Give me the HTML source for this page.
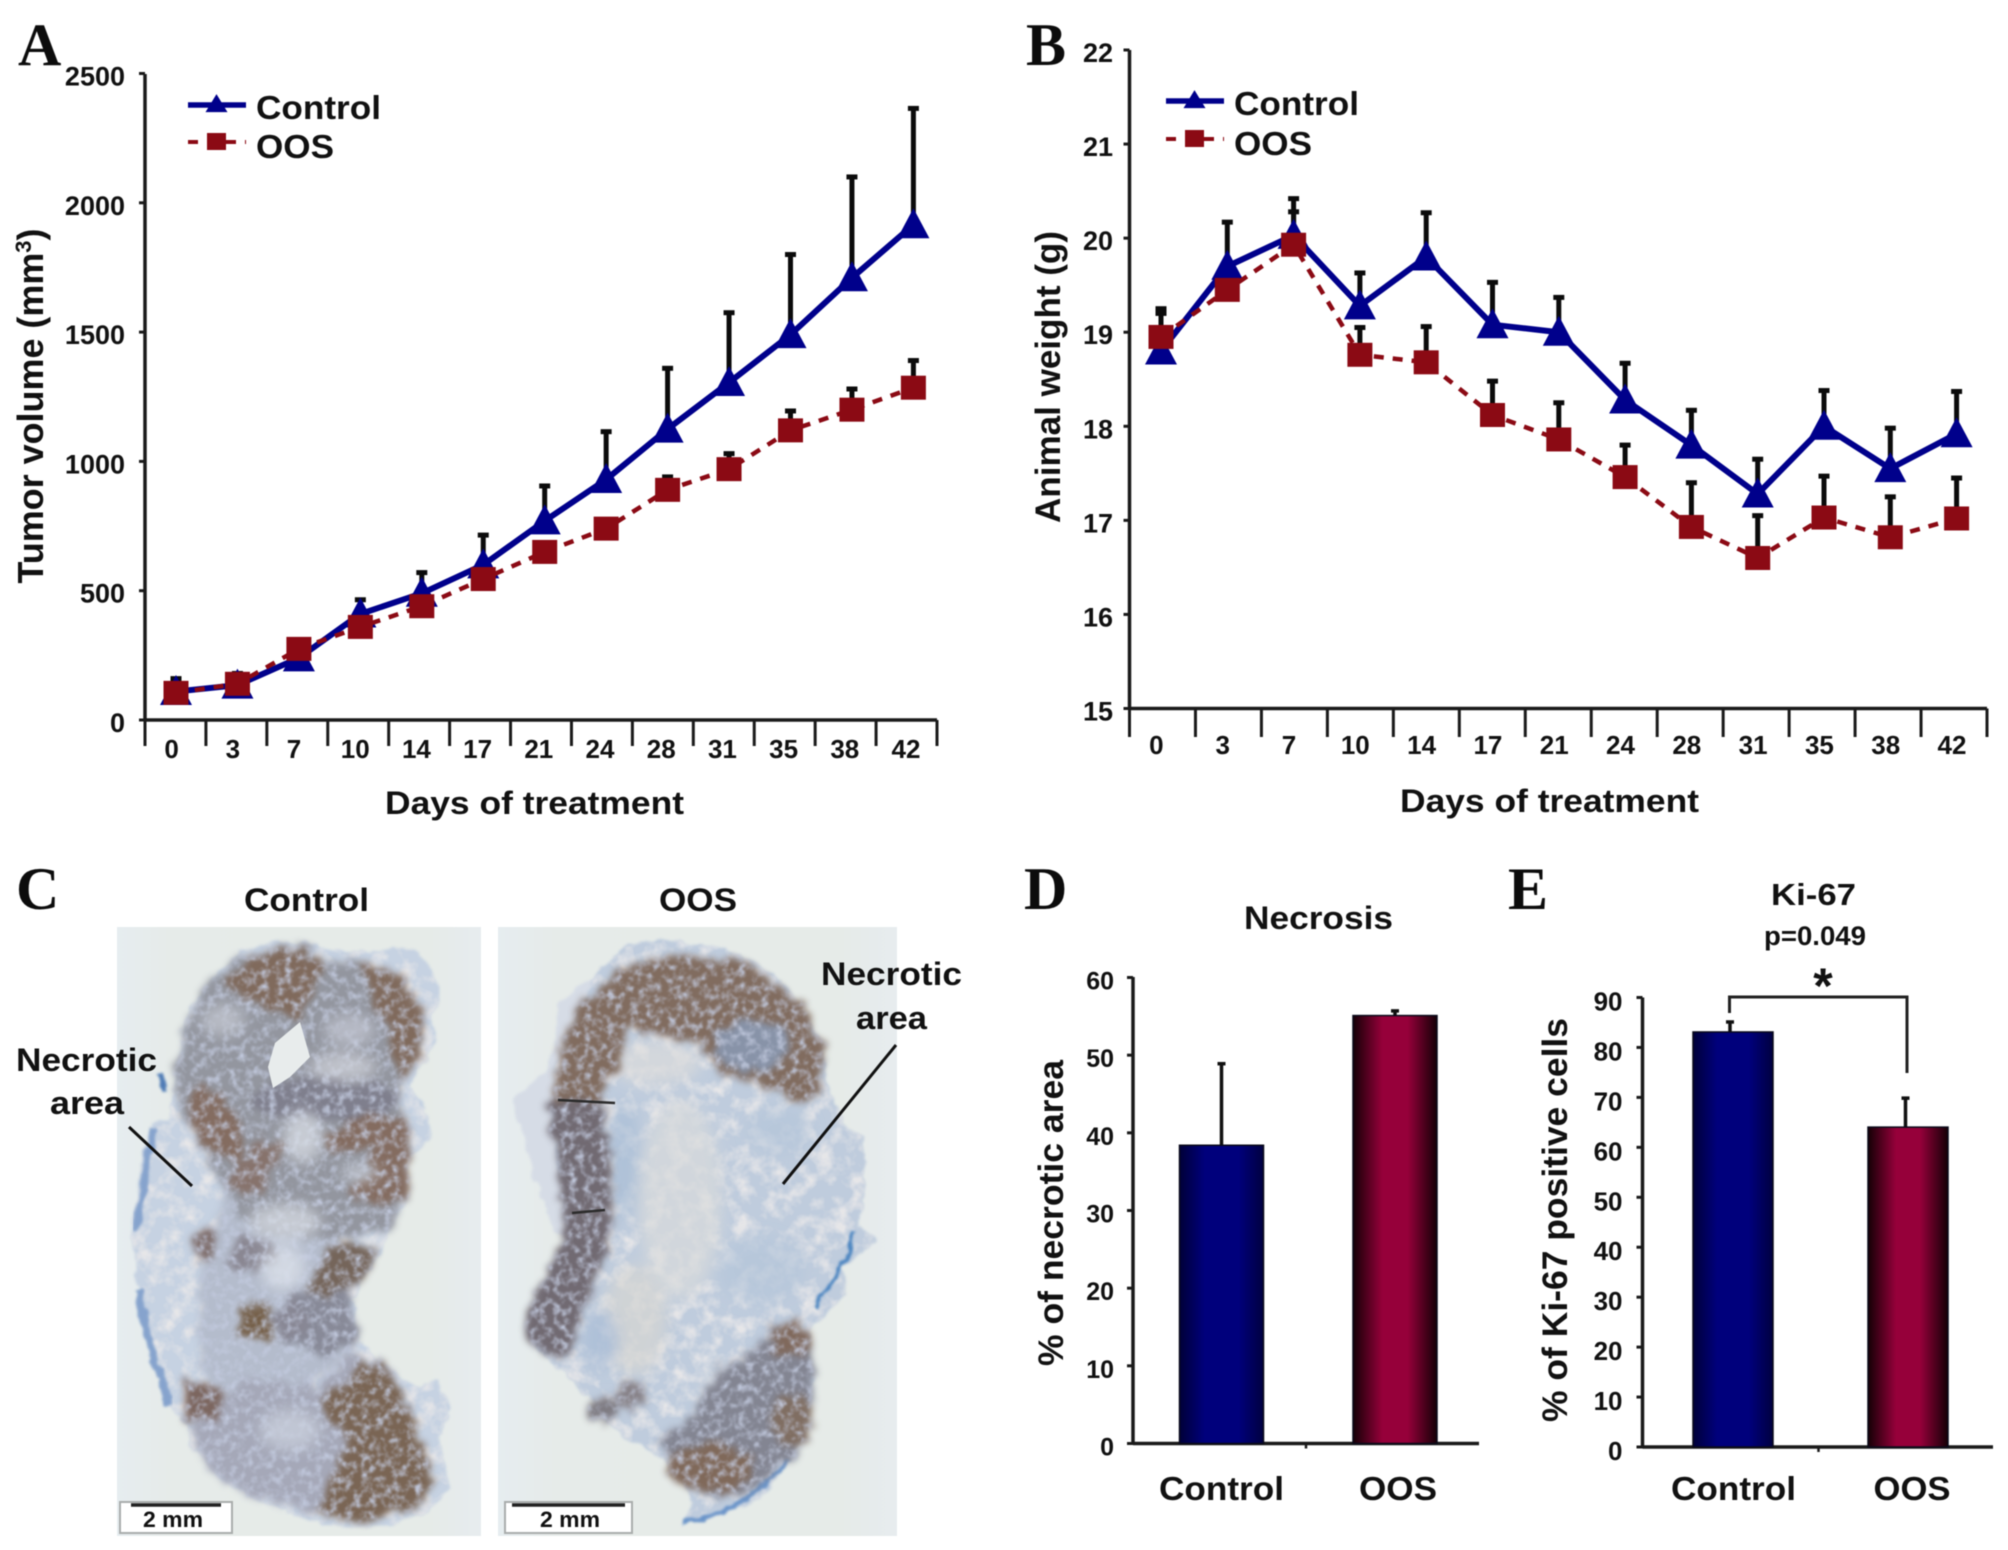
<!DOCTYPE html>
<html lang="en">
<head>
<meta charset="utf-8">
<title>Tumor volume, animal weight, necrosis and Ki-67 after OOS treatment</title>
<style>
html,body{margin:0;padding:0;background:#fff;width:2008px;height:1550px;overflow:hidden}
svg{display:block;filter:blur(.6px)}
text{font-family:"Liberation Sans",Arial,sans-serif;font-weight:bold;fill:#111}
.letter{font-family:"Liberation Serif","Times New Roman",serif;font-size:60px;fill:#0c0c0c}
</style>
</head>
<body>
<svg id="figure" xmlns="http://www.w3.org/2000/svg" width="2008" height="1550" viewBox="0 0 2008 1550">
<defs>
<linearGradient id="barBlue" x1="0" x2="1" y1="0" y2="0"><stop offset="0" stop-color="#000038"/><stop offset=".3" stop-color="#00007c"/><stop offset=".7" stop-color="#00007c"/><stop offset="1" stop-color="#000040"/></linearGradient>
<linearGradient id="barRed" x1="0" x2="1" y1="0" y2="0"><stop offset="0" stop-color="#140006"/><stop offset=".35" stop-color="#96003a"/><stop offset=".65" stop-color="#96003a"/><stop offset="1" stop-color="#140006"/></linearGradient>
<linearGradient id="photoBg" x1="0" x2="1" y1="0" y2="0"><stop offset="0" stop-color="#e6edf0"/><stop offset=".15" stop-color="#e6ebe9"/><stop offset=".85" stop-color="#e6ebe8"/><stop offset="1" stop-color="#e7ecef"/></linearGradient>
<filter id="tex" color-interpolation-filters="sRGB" x="-8%" y="-8%" width="116%" height="116%"><feTurbulence type="fractalNoise" baseFrequency="0.07" numOctaves="3" seed="4" result="n"/><feDisplacementMap in="SourceGraphic" in2="n" scale="10" xChannelSelector="R" yChannelSelector="G"/><feGaussianBlur stdDeviation="1.2"/></filter>
<filter id="mottleBase" color-interpolation-filters="sRGB" x="-8%" y="-8%" width="116%" height="116%"><feTurbulence type="fractalNoise" baseFrequency="0.07" numOctaves="3" seed="4" result="n"/><feDisplacementMap in="SourceGraphic" in2="n" scale="10" xChannelSelector="R" yChannelSelector="G" result="d"/><feGaussianBlur in="d" stdDeviation="1.2" result="shape"/><feTurbulence type="fractalNoise" baseFrequency="0.06" numOctaves="3" seed="21" result="c"/><feColorMatrix in="c" type="matrix" values="0 0 0 0 .9  0 0 0 0 .9  0 0 0 0 .91  2.6 0 0 0 -1.05" result="s"/><feComposite in="s" in2="shape" operator="in" result="sp"/><feMerge><feMergeNode in="shape"/><feMergeNode in="sp"/></feMerge></filter>
<filter id="mottle" color-interpolation-filters="sRGB" x="-8%" y="-8%" width="116%" height="116%"><feTurbulence type="fractalNoise" baseFrequency="0.08" numOctaves="3" seed="4" result="n"/><feDisplacementMap in="SourceGraphic" in2="n" scale="20" xChannelSelector="R" yChannelSelector="G" result="d"/><feGaussianBlur in="d" stdDeviation="3.5" result="shape"/><feTurbulence type="fractalNoise" baseFrequency="0.13" numOctaves="3" seed="9" result="c"/><feColorMatrix in="c" type="matrix" values="0 0 0 0 .76  0 0 0 0 .79  0 0 0 0 .87  2.4 0 0 0 -1.05" result="s"/><feComposite in="s" in2="shape" operator="in" result="sp"/><feMerge result="m"><feMergeNode in="shape"/><feMergeNode in="sp"/></feMerge><feGaussianBlur in="m" stdDeviation=".7"/></filter>
<filter id="soft" x="-40%" y="-40%" width="180%" height="180%"><feGaussianBlur stdDeviation="7"/></filter>
</defs>

<g id="panel-a">
<text class="letter" x="18" y="65">A</text>
<text text-anchor="middle" font-size="36" textLength="355" lengthAdjust="spacingAndGlyphs" transform="translate(43 406) rotate(-90)">Tumor volume (mm<tspan font-size="22" dy="-12">3</tspan><tspan dy="12">)</tspan></text>
<text x="385" y="814" font-size="32" textLength="299" lengthAdjust="spacingAndGlyphs">Days of treatment</text>
</g>
<g id="panel-b">
<text class="letter" x="1026" y="65">B</text>
<text text-anchor="middle" font-size="35" textLength="292" lengthAdjust="spacingAndGlyphs" transform="translate(1060 377) rotate(-90)">Animal weight (g)</text>
<text x="1400" y="812" font-size="32" textLength="299" lengthAdjust="spacingAndGlyphs">Days of treatment</text>
</g>

<g id="panel-c">
<text class="letter" x="16" y="909">C</text>
<text x="244" y="911" font-size="32" textLength="125" lengthAdjust="spacingAndGlyphs">Control</text>
<text x="659" y="911" font-size="32" textLength="78" lengthAdjust="spacingAndGlyphs">OOS</text>

<g>
<rect x="117" y="927" width="364" height="609" fill="url(#photoBg)"/>
<g filter="url(#mottleBase)">
<polygon fill="#c6d2e2" points="243,950 270,942 310,943 350,952 410,947 430,963 440,992 432,1013 435,1043 410,1087 425,1107 432,1137 407,1160 407,1197 390,1227 380,1253 353,1300 358,1343 387,1367 417,1387 438,1382 448,1403 440,1443 450,1490 427,1513 377,1527 323,1525 270,1507 217,1477 190,1440 187,1425 167,1400 160,1363 147,1333 138,1290 133,1230 133,1220 143,1153 152,1123 170,1117 175,1067 187,1017 210,980"/>
</g>
<g filter="url(#tex)">
<path d="M153 1127 L143 1190 L136 1230 M138 1290 L150 1345 L170 1405" fill="none" stroke="#86a3cd" stroke-width="7"/>
<path d="M165 1090 L160 1075" fill="none" stroke="#4f7bb5" stroke-width="6"/>
</g>
<g filter="url(#mottle)">
<polygon fill="#b4bccc" points="223,1190 300,1220 345,1240 352,1350 300,1390 230,1400 200,1370 200,1280 215,1230"/>
<polygon fill="#959887" style="fill:#93969f" points="242,955 277,947 310,947 323,963 357,960 397,977 422,1017 417,1060 402,1080 397,1100 407,1133 407,1187 392,1227 340,1240 270,1232 235,1212 223,1180 207,1160 190,1127 177,1107 175,1063 188,1020 210,983"/>
<polygon fill="#a5a8b8" points="193,1427 243,1380 317,1387 353,1350 387,1367 410,1410 430,1470 423,1503 363,1520 323,1517 243,1493 203,1463"/>
<polygon fill="#888a98" points="290,1293 350,1290 357,1343 323,1357 273,1333"/>
<ellipse fill="#7f7f8d" cx="327" cy="1100" rx="74" ry="20"/>
<polygon fill="#806a5c" points="223,985 250,955 303,948 322,963 313,990 297,1020 277,1010 243,1000"/>
<polygon fill="#806a5c" points="357,960 400,975 424,1017 419,1055 403,1080 395,1060 388,1020 373,1010 367,977"/>
<polygon fill="#846c60" points="190,1087 217,1090 245,1127 240,1165 210,1150 190,1127"/>
<polygon fill="#846c60" points="320,1140 357,1115 405,1118 409,1187 387,1210 345,1192 373,1172 370,1147 337,1155"/>
<polygon fill="#87736c" points="257,1137 285,1147 265,1190 225,1190 233,1173"/>
<polygon fill="#7a6554" points="320,1397 353,1383 357,1355 387,1371 412,1417 432,1470 425,1505 363,1522 320,1515 335,1470 348,1437 328,1417"/>
<polygon fill="#75655a" points="305,1290 333,1245 380,1245 360,1282 323,1296"/>
<polygon fill="#755f48" points="240,1301 272,1308 269,1339 241,1339"/>
<polygon fill="#7c665f" points="185,1378 225,1390 215,1422 185,1419"/>
<ellipse fill="#7f6e6c" cx="203" cy="1245" rx="13" ry="17"/>
<ellipse fill="#8a8792" cx="252" cy="1255" rx="26" ry="18"/>
<ellipse fill="#888794" cx="290" cy="1320" rx="16" ry="20"/>
</g>
<g filter="url(#soft)" opacity=".7">
<ellipse fill="#dde2ea" cx="303" cy="1137" rx="20" ry="26"/>
<ellipse fill="#c6cad4" cx="223" cy="1020" rx="22" ry="16"/>
<ellipse fill="#d3d6de" cx="343" cy="1067" rx="34" ry="14"/>
<ellipse fill="#c4c8d4" cx="350" cy="1030" rx="26" ry="16"/>
<ellipse fill="#dce1e9" cx="285" cy="1222" rx="36" ry="18"/>
<ellipse fill="#cfd4de" cx="360" cy="1173" rx="18" ry="9"/>
<ellipse fill="#dfe4ec" cx="283" cy="1268" rx="22" ry="22"/>
<ellipse fill="#ccd3e0" cx="290" cy="1430" rx="30" ry="20"/>
</g>
<polygon fill="#e8ecec" points="300,1022 310,1057 290,1077 273,1088 268,1067 275,1043"/>
<rect x="120" y="1502" width="112" height="31" fill="#fff" stroke="#a9adac" stroke-width="2"/>
<line x1="131" y1="1505" x2="221" y2="1505" stroke="#222" stroke-width="3.5"/>
<text x="143" y="1527" font-size="22" textLength="60" lengthAdjust="spacingAndGlyphs">2 mm</text>
</g>

<g>
<rect x="498" y="927" width="399" height="609" fill="url(#photoBg)"/>
<g filter="url(#tex)">
<polygon fill="#d6dce6" points="628,950 560,1000 550,1070 512,1100 530,1160 552,1230 570,1240 600,1100 660,980"/>
</g>
<g filter="url(#mottleBase)">
<polygon fill="#bfccdd" points="628,943 662,940 728,948 782,980 823,1043 825,1077 848,1133 865,1137 865,1187 858,1227 878,1240 842,1267 845,1293 822,1317 808,1330 812,1380 808,1427 788,1463 762,1497 708,1520 682,1523 695,1503 688,1490 655,1453 622,1437 585,1393 545,1357 527,1330 532,1307 558,1260 568,1230 565,1220 552,1127 555,1070 592,977"/>
</g>
<g filter="url(#tex)">
<path d="M682 1523 Q740 1515 788 1460" fill="none" stroke="#6a94c9" stroke-width="5"/>
<path d="M815 1307 Q840 1275 855 1232" fill="none" stroke="#4a84c0" stroke-width="4"/>
</g>
<g filter="url(#soft)" opacity=".7">
<ellipse fill="#dcdcdc" cx="655" cy="1063" rx="46" ry="22"/>
<ellipse fill="#d9dbdc" cx="680" cy="1200" rx="42" ry="100"/>
<ellipse fill="#d6d6d3" cx="635" cy="1320" rx="32" ry="56"/>
<ellipse fill="#d8dde2" cx="720" cy="1395" rx="18" ry="28"/>
<ellipse fill="#a8bdd6" cx="625" cy="1160" rx="14" ry="60"/>
<ellipse fill="#b5c6da" cx="780" cy="1130" rx="32" ry="24"/>
<ellipse fill="#b5c6da" cx="760" cy="1270" rx="44" ry="34"/>
<ellipse fill="#a8bcd6" cx="600" cy="1340" rx="18" ry="30"/>
</g>
<g filter="url(#mottle)">
<polygon fill="#816c5f" points="553,1080 576,1008 628,965 675,955 745,961 797,1001 825,1050 817,1095 798,1104 778,1092 722,1076 708,1050 655,1033 628,1030 612,1077 600,1103 553,1103"/>
<polygon fill="#716a72" points="551,1100 602,1100 610,1153 612,1220 608,1255 590,1290 570,1355 545,1359 525,1330 530,1305 556,1260 565,1230 560,1187 550,1127"/>
<ellipse fill="#8893a8" cx="752" cy="1045" rx="38" ry="26"/>
<polygon fill="#838592" points="778,1321 810,1341 814,1390 807,1437 784,1465 750,1489 702,1499 680,1472 660,1443 693,1415 720,1368 748,1355"/>
<ellipse fill="#80695a" cx="710" cy="1468" rx="44" ry="24"/>
<ellipse fill="#80695c" cx="790" cy="1340" rx="20" ry="18"/>
<ellipse fill="#806e62" cx="792" cy="1420" rx="20" ry="26"/>
<ellipse fill="#7e7b82" cx="605" cy="1410" rx="18" ry="11"/>
<ellipse fill="#878288" cx="632" cy="1393" rx="15" ry="15"/>
</g>
<path d="M558 1100 L615 1103 M572 1213 L605 1210" stroke="#2c2c2c" stroke-width="2.5" fill="none"/>
<rect x="505" y="1502" width="127" height="31" fill="#fff" stroke="#a9adac" stroke-width="2"/>
<line x1="512" y1="1505" x2="625" y2="1505" stroke="#222" stroke-width="3.5"/>
<text x="540" y="1527" font-size="22" textLength="60" lengthAdjust="spacingAndGlyphs">2 mm</text>
</g>

<text x="16" y="1071" font-size="32" textLength="141" lengthAdjust="spacingAndGlyphs">Necrotic</text>
<text x="50" y="1114" font-size="32" textLength="74" lengthAdjust="spacingAndGlyphs">area</text>
<line x1="129" y1="1127" x2="192" y2="1186" stroke="#111" stroke-width="3"/>
<text x="821" y="985" font-size="32" textLength="141" lengthAdjust="spacingAndGlyphs">Necrotic</text>
<text x="856" y="1029" font-size="32" textLength="71" lengthAdjust="spacingAndGlyphs">area</text>
<line x1="896" y1="1045" x2="783" y2="1184" stroke="#111" stroke-width="3"/>
</g>

<g id="panel-d">
<text class="letter" x="1024" y="909">D</text>
<text x="1244" y="929" font-size="32" textLength="149" lengthAdjust="spacingAndGlyphs">Necrosis</text>
<text text-anchor="middle" font-size="35" textLength="306" lengthAdjust="spacingAndGlyphs" transform="translate(1063 1213) rotate(-90)">% of necrotic area</text>
</g>
<g id="panel-e">
<text class="letter" x="1508" y="909">E</text>
<text x="1771" y="905" font-size="31" textLength="85" lengthAdjust="spacingAndGlyphs">Ki-67</text>
<text x="1764" y="945" font-size="27" textLength="102" lengthAdjust="spacingAndGlyphs">p=0.049</text>
<text x="1823" y="1003" text-anchor="middle" font-size="50">*</text>
<path d="M1729.5 1013 V997 H1907 V1073" fill="none" stroke="#222" stroke-width="3"/>
<text text-anchor="middle" font-size="35" textLength="404" lengthAdjust="spacingAndGlyphs" transform="translate(1567 1220) rotate(-90)">% of Ki-67 positive cells</text>
</g>
</svg>

<script>
const days = ["0","3","7","10","14","17","21","24","28","31","35","38","42"];
const volumeTicks = [0,500,1000,1500,2000,2500];
const volumeControl = [110,135,240,410,490,600,770,930,1125,1305,1490,1710,1915];
const volumeControlErr = [50,45,40,55,80,115,135,185,235,270,310,390,450];
const volumeOos = [105,140,275,360,440,545,650,740,890,970,1120,1200,1285];
const volumeOosErr = [25,20,20,20,30,25,20,30,50,60,75,80,105];
const weightTicks = [15,16,17,18,19,20,21,22];
const weightControl = [18.8,19.7,20.03,19.28,19.8,19.08,19.0,18.28,17.8,17.28,18.0,17.55,17.92];
const weightControlErr = [0.45,0.47,0.39,0.35,0.47,0.45,0.37,0.39,0.37,0.37,0.38,0.43,0.45];
const weightOos = [18.95,19.45,19.93,18.76,18.68,18.12,17.86,17.46,16.93,16.6,17.03,16.82,17.02];
const weightOosErr = [0.25,0.25,0.35,0.29,0.38,0.36,0.39,0.34,0.47,0.45,0.44,0.43,0.43];
const groups = ["Control","OOS"];
const necrosisTicks = [0,10,20,30,40,50,60];
const necrosisValues = [38.4,55.1];
const necrosisErr = [10.5,0.6];
const ki67Ticks = [0,10,20,30,40,50,60,70,80,90];
const ki67Values = [83.1,64.05];
const ki67Err = [2.0,5.8];

const NS = "http://www.w3.org/2000/svg";
const BLUE = "#00008b", RED = "#8b0a14", INK = "#1a1a1a";
function mk(parent, tag, attrs, txt) {
  const e = document.createElementNS(NS, tag);
  for (const k in attrs) e.setAttribute(k, attrs[k]);
  if (txt !== undefined) e.textContent = txt;
  parent.appendChild(e);
  return e;
}
function triPoints(cx, cy, w, h) {
  return (cx - w/2) + "," + (cy + h*0.45) + " " + (cx + w/2) + "," + (cy + h*0.45) + " " + cx + "," + (cy - h*0.55);
}

function axisFrame(g, cfg) {
  const yAxis = mk(g, "line", {x1:cfg.x0, x2:cfg.x0, y1:cfg.yTop, y2:cfg.yBase, stroke:INK, "stroke-width":3.5});
  
  
  const xAxis = mk(g, "line", {x1:cfg.x0, x2:cfg.x1, y1:cfg.yBase, y2:cfg.yBase, stroke:INK, "stroke-width":3.5});
  
  
  cfg.ticks.forEach(function (t) {
    const y = cfg.y(t);
    const tick = mk(g, "line", {x1:cfg.x0 - 6, x2:cfg.x0, y1:y, y2:y, stroke:INK, "stroke-width":3});
    
    
    const lab = mk(g, "text", {x:cfg.labelX, y:y + cfg.labelDy, "text-anchor":"end", "font-size":cfg.labelSize}, String(t));
    
    
  });
}

function lineChart(g, cfg) {
  axisFrame(g, cfg);
  const n = cfg.cats.length;
  const step = (cfg.x1 - cfg.x0) / n;
  for (let i = 0; i <= n; i++) {
    const xt = cfg.x0 + step * i;
    const tick = mk(g, "line", {x1:xt, x2:xt, y1:cfg.yBase, y2:cfg.tickEnd, stroke:INK, "stroke-width":3});
    
    
  }
  cfg.cats.forEach(function (c, i) {
    const lab = mk(g, "text", {x:cfg.labX(i), y:cfg.labY, "text-anchor":"middle", "font-size":26}, c);
    
    
  });
  function errs(vals, err, name) {
    vals.forEach(function (v, i) {
      const x = cfg.x(i), top = cfg.y(v + err[i]);
      const stem = mk(g, "line", {x1:x, x2:x, y1:cfg.y(v), y2:top, stroke:"#0b0b0b", "stroke-width":5});
      
      
      const cap = mk(g, "line", {x1:x - 5.5, x2:x + 5.5, y1:top, y2:top, stroke:"#0b0b0b", "stroke-width":5});
      
      
    });
  }
  errs(cfg.control, cfg.controlErr, "control");
  errs(cfg.oos, cfg.oosErr, "oos");
  const ctrlLine = mk(g, "polyline", {points:cfg.control.map(function (v, i) { return cfg.x(i) + "," + cfg.y(v); }).join(" "), fill:"none", stroke:BLUE, "stroke-width":6, "stroke-linejoin":"round"});
  
  
  cfg.control.forEach(function (v, i) {
    const t = mk(g, "polygon", {points:triPoints(cfg.x(i), cfg.y(v), 32, 30), fill:BLUE});
    
    
  });
  const oosLine = mk(g, "polyline", {points:cfg.oos.map(function (v, i) { return cfg.x(i) + "," + cfg.y(v); }).join(" "), fill:"none", stroke:RED, "stroke-width":4.5, "stroke-dasharray":"10 9"});
  
  
  cfg.oos.forEach(function (v, i) {
    const s = mk(g, "rect", {x:cfg.x(i) - 12.5, y:cfg.y(v) - 12, width:25, height:24, fill:RED});
    
    
  });
  // legend
  const lg = mk(g, "g", {});
  
  
  const l1 = mk(lg, "line", {x1:cfg.legX, x2:cfg.legX + 58, y1:cfg.legY1, y2:cfg.legY1, stroke:BLUE, "stroke-width":5.5});
  
  
  const m1 = mk(lg, "polygon", {points:triPoints(cfg.legX + 28.5, cfg.legY1 - 1, 22, 18), fill:BLUE});
  
  
  const t1 = mk(lg, "text", {x:cfg.legX + 68, y:cfg.legY1 + cfg.legDy1, "font-size":33, textLength:125, lengthAdjust:"spacingAndGlyphs"}, groups[0]);
  
  
  const l2 = mk(lg, "line", {x1:cfg.legX, x2:cfg.legX + 58, y1:cfg.legY2, y2:cfg.legY2, stroke:RED, "stroke-width":4, "stroke-dasharray":"10 9"});
  
  
  const m2 = mk(lg, "rect", {x:cfg.legX + 19, y:cfg.legY2 - 9, width:19, height:17, fill:RED});
  
  
  const t2 = mk(lg, "text", {x:cfg.legX + 68, y:cfg.legY2 + cfg.legDy2, "font-size":33, textLength:78, lengthAdjust:"spacingAndGlyphs"}, groups[1]);
  
  
}

function barChart(g, cfg) {
  axisFrame(g, cfg);
  const mid = mk(g, "line", {x1:cfg.midX, x2:cfg.midX, y1:cfg.yBase, y2:cfg.yBase + 5, stroke:INK, "stroke-width":2.5});
  
  
  cfg.values.forEach(function (v, i) {
    const x = cfg.barX[i], yy = cfg.y(v), ex = cfg.errX[i], top = cfg.y(v + cfg.err[i]);
    const stem = mk(g, "line", {x1:ex, x2:ex, y1:yy, y2:top, stroke:"#111", "stroke-width":3.5});
    
    
    const cap = mk(g, "line", {x1:ex - 4, x2:ex + 4, y1:top, y2:top, stroke:"#111", "stroke-width":3.5});
    
    
    const bar = mk(g, "rect", {x:x, y:yy, width:cfg.barW, height:cfg.yBase - yy, fill:i === 0 ? "url(#barBlue)" : "url(#barRed)", stroke:"#0a0a1a", "stroke-width":1.5});
    
    
    const lab = mk(g, "text", {x:cfg.catX[i], y:cfg.catY, "font-size":33, textLength:cfg.catW[i], lengthAdjust:"spacingAndGlyphs"}, groups[i]);
    
    
  });
}

lineChart(document.getElementById("panel-a"), {
  cats:days, ticks:volumeTicks, control:volumeControl, controlErr:volumeControlErr, oos:volumeOos, oosErr:volumeOosErr,
  x0:145, x1:937, yTop:74, yBase:720, tickEnd:746,
  x:function (i) { return 176 + 61.45 * i; },
  y:function (v) { return 720 - v * (646.5 / 2500); },
  labX:function (i) { return 171.6 + 61.2 * i; }, labY:758,
  labelX:125, labelDy:12, labelSize:27,
  legX:188, legY1:105, legY2:142, legDy1:14, legDy2:16
});
lineChart(document.getElementById("panel-b"), {
  cats:days, ticks:weightTicks, control:weightControl, controlErr:weightControlErr, oos:weightOos, oosErr:weightOosErr,
  x0:1129.5, x1:1987, yTop:50, yBase:708.5, tickEnd:737,
  x:function (i) { return 1161 + 66.3 * i; },
  y:function (v) { return 708.5 - (v - 15) * (658.5 / 7); },
  labX:function (i) { return 1156.4 + 66.3 * i; }, labY:754,
  labelX:1113, labelDy:12, labelSize:27,
  legX:1166, legY1:101, legY2:139, legDy1:14, legDy2:16
});
barChart(document.getElementById("panel-d"), {
  ticks:necrosisTicks, values:necrosisValues, err:necrosisErr,
  x0:1133, x1:1479, yTop:977, yBase:1443.5, midX:1306,
  y:function (v) { return 1443.5 - v * (466 / 60); },
  labelX:1114, labelDy:12, labelSize:25,
  barX:[1179.5,1353], barW:84, errX:[1221.5,1395],
  catX:[1159,1359], catW:[125,78], catY:1500
});
barChart(document.getElementById("panel-e"), {
  ticks:ki67Ticks, values:ki67Values, err:ki67Err,
  x0:1642.5, x1:1993, yTop:997.5, yBase:1447, midX:1818.5,
  y:function (v) { return 1447 - v * (449.5 / 90); },
  labelX:1622.5, labelDy:13, labelSize:26,
  barX:[1693,1868], barW:80, errX:[1730,1905.5],
  catX:[1671,1873.5], catW:[125,77], catY:1500
});
</script>
</body>
</html>
